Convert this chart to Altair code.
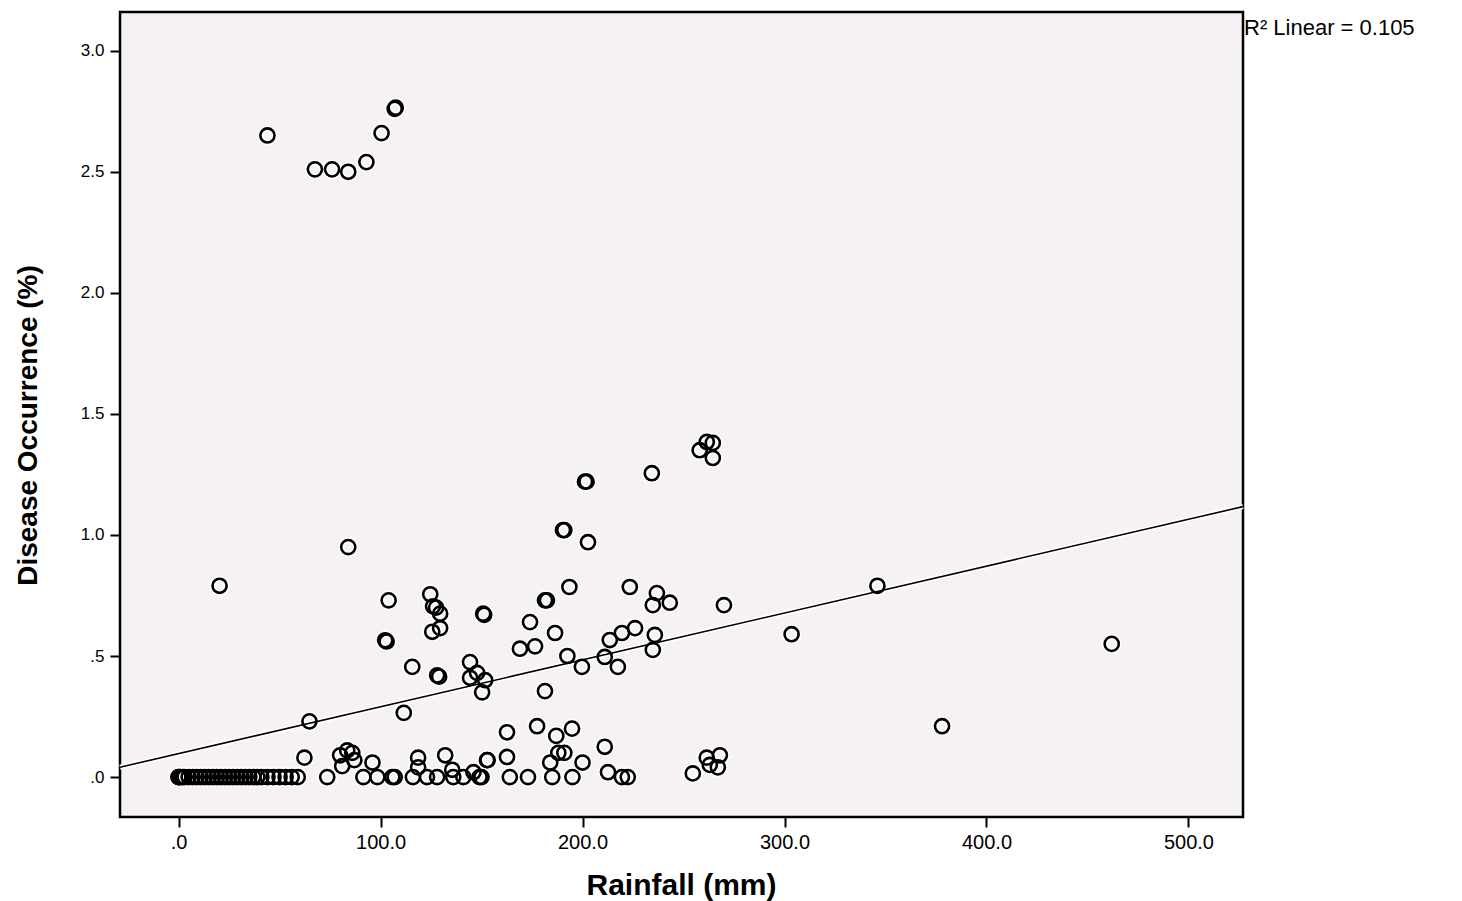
import altair as alt
import pandas as pd

# ---- data ----
rain_upper = [44, 67.5, 76, 84, 93, 100.5, 107, 107.5]
occ_upper = [2.65, 2.51, 2.51, 2.50, 2.54, 2.66, 2.76, 2.765]

rain_mid = [20.3, 84, 64.8, 62.3, 104, 102.3, 103, 115.7, 111.5,
            124.6, 126, 127.5, 129.5, 125.6, 129.5, 128, 129,
            144.3, 144.3, 147.8, 151.8, 150.3, 150.8, 151.3,
            174, 169, 176.5, 181.4, 182.4, 186.4, 181.4, 177.5, 162.6,
            193.5, 190.3, 191, 201.2, 202, 202.7,
            192.5, 199.7, 211, 213.5, 219.5, 226, 217.5, 223.4,
            234.3, 234.8, 236.8, 235.8, 234.8, 243.2, 270,
            258, 261.5, 264.5, 264.5,
            303.5, 346, 378, 462,
            187, 194.8, 188, 191, 200, 211, 184]
occ_mid = [0.79, 0.95, 0.23, 0.08, 0.73, 0.565, 0.56, 0.455, 0.265,
           0.755, 0.705, 0.70, 0.675, 0.60, 0.615, 0.42, 0.415,
           0.475, 0.41, 0.43, 0.40, 0.35, 0.675, 0.67,
           0.64, 0.53, 0.54, 0.73, 0.73, 0.595, 0.355, 0.21, 0.185,
           0.785, 1.02, 1.02, 1.22, 1.22, 0.97,
           0.50, 0.455, 0.496, 0.566, 0.595, 0.615, 0.455, 0.785,
           1.255, 0.71, 0.76, 0.587, 0.525, 0.72, 0.71,
           1.35, 1.384, 1.38, 1.318,
           0.59, 0.79, 0.21, 0.55,
           0.17, 0.20, 0.10, 0.10, 0.06, 0.125, 0.06]

rain_low = [80, 83.5, 86, 81, 87, 96, 118.6, 118.6, 132, 135.5, 146, 153,
            152.7, 162.6, 212.6, 254.6, 261.5, 268, 267, 263]
occ_low = [0.09, 0.11, 0.10, 0.045, 0.07, 0.06, 0.08, 0.04, 0.09, 0.03, 0.02,
           0.07, 0.07, 0.083, 0.02, 0.015, 0.08, 0.09, 0.04, 0.05]

rain_zero = [0, 0, 1, 2, 3, 5, 7, 9, 11, 13, 15, 17, 19, 21, 23, 25, 27, 29,
             31, 33, 35, 37, 39, 41, 44, 47, 50, 53, 56, 59,
             73.6, 91.5, 98.4, 105.8, 107, 116, 123, 128, 136, 141, 149, 150,
             164, 173, 185, 195, 219.5, 222.4]

# fitted line: y = intercept + slope * x
fit_x = [-29, 527]
fit_y = [0.0406, 1.117]

x_ticks = [0, 100, 200, 300, 400, 500]
y_ticks = [0, 0.5, 1.0, 1.5, 2.0, 2.5, 3.0]

rain = rain_upper + rain_mid + rain_low + rain_zero
occ = occ_upper + occ_mid + occ_low + [0.0] * len(rain_zero)
pts = pd.DataFrame({"rain": rain, "occ": occ})
fit = pd.DataFrame({"rain": fit_x, "occ": fit_y})

FONT = "Liberation Sans"

xscale = alt.Scale(domain=[-29, 527], nice=False, zero=False)
yscale = alt.Scale(domain=[-0.165, 3.16], nice=False, zero=False)

xaxis = alt.Axis(
    values=x_ticks, title="Rainfall (mm)", grid=False, domain=False,
    tickColor="black", tickWidth=2, tickSize=10,
    labelExpr="datum.value == 0 ? '.0' : format(datum.value, '.1f')",
    labelFont=FONT, labelFontSize=20, labelColor="black", labelPadding=5,
    titleFont=FONT, titleFontSize=30, titleFontWeight="bold", titleColor="black",
    titleX=561, titleY=68, titleBaseline="middle",
)
yaxis = alt.Axis(
    values=y_ticks, title="Disease Occurrence (%)", grid=False, domain=False,
    tickColor="black", tickWidth=2, tickSize=10,
    labelExpr="datum.value == 0 ? '.0' : (datum.value == 0.5 ? '.5' : format(datum.value, '.1f'))",
    labelFont=FONT, labelFontSize=17, labelColor="black", labelPadding=6,
    titleFont=FONT, titleFontSize=28, titleFontWeight="bold", titleColor="black",
    titleX=-92, titleY=413, titleBaseline="middle", titleAlign="center", titleAngle=-90,
)

base_pts = alt.Chart(pts)

halo_pts = base_pts.mark_point(
    shape="circle", filled=False, stroke="white", strokeWidth=6, size=200, opacity=0.9
).encode(
    x=alt.X("rain:Q", scale=xscale, axis=xaxis),
    y=alt.Y("occ:Q", scale=yscale, axis=yaxis),
)

halo_line = alt.Chart(fit).mark_line(stroke="white", strokeWidth=5).encode(
    x=alt.X("rain:Q", scale=xscale),
    y=alt.Y("occ:Q", scale=yscale),
)
line = alt.Chart(fit).mark_line(stroke="black", strokeWidth=1.6).encode(
    x=alt.X("rain:Q", scale=xscale),
    y=alt.Y("occ:Q", scale=yscale),
)

circles = base_pts.mark_point(
    shape="circle", filled=False, stroke="black", strokeWidth=2.6, size=200, opacity=1
).encode(
    x=alt.X("rain:Q", scale=xscale),
    y=alt.Y("occ:Q", scale=yscale),
)

r2 = alt.Chart(pd.DataFrame({"t": ["R² Linear = 0.105"]})).mark_text(
    align="left", baseline="middle", font=FONT, fontSize=22, color="black"
).encode(text="t:N", x=alt.value(1124), y=alt.value(16))

chart = alt.layer(halo_line, halo_pts, line, circles, r2).properties(
    width=1123, height=805,
    autosize=alt.AutoSizeParams(type="none"),
    padding={"left": 120, "top": 12, "right": 219, "bottom": 84},
    background="white",
).configure_view(
    fill="#F5F1F4", stroke="black", strokeWidth=2.5
)

chart.save("out.html", embed_options={"renderer": "svg", "actions": False})
